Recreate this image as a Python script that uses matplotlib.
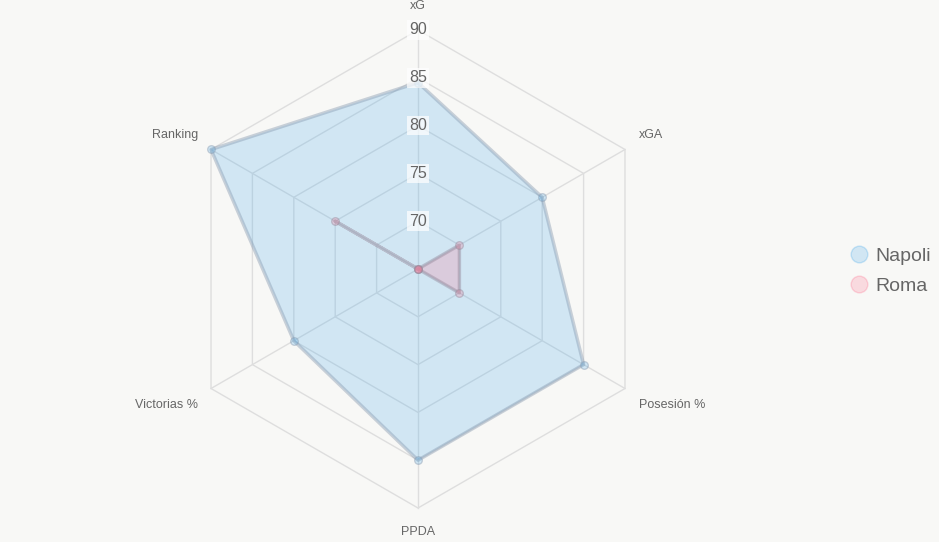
import numpy as np
import matplotlib.pyplot as plt
from matplotlib.lines import Line2D

plt.rcParams["font.family"] = ["Liberation Sans", "DejaVu Sans"]

categories = ["xG", "xGA", "Posesión %", "PPDA", "Victorias %", "Ranking"]
napoli = [84.5, 80, 85, 85, 80, 90]
roma = [65, 70, 70, 65, 65, 75]
ticks = [70, 75, 80, 85, 90]
r_min, r_max = 65, 90

bg = "#f8f8f6"
angles = np.deg2rad(90 - 60 * np.arange(len(categories)))


def to_xy(values):
    r = np.asarray(values, dtype=float) - r_min
    return r * np.cos(angles), r * np.sin(angles)


fig = plt.figure(figsize=(9.39, 5.42), dpi=100, facecolor=bg)
ax = fig.add_axes([0, 0, 1, 1])
ax.set_facecolor(bg)
scale = 239 / (r_max - r_min)
ax.set_xlim(-418 / scale, (939 - 418) / scale)
ax.set_ylim(-273 / scale, 269 / scale)
ax.axis("off")

# hexagon grid + spokes
grid_c = "#dedede"
for t in ticks:
    gx, gy = to_xy([t] * len(categories))
    ax.plot(np.append(gx, gx[0]), np.append(gy, gy[0]), color=grid_c, lw=1, zorder=1)
ox, oy = to_xy([r_max] * len(categories))
for x, y in zip(ox, oy):
    ax.plot([0, x], [0, y], color=grid_c, lw=1, zorder=1)

# series
series = [
    ("Napoli", napoli, (54/255, 162/255, 235/255, 0.2), (0.55, 0.62, 0.70, 0.45)),
    ("Roma", roma, (255/255, 99/255, 132/255, 0.2), (0.6, 0.55, 0.62, 0.45)),
]
for name, vals, fill, edge in series:
    x, y = to_xy(vals)
    ax.fill(x, y, color=fill, zorder=2, lw=0)
    ax.plot(np.append(x, x[0]), np.append(y, y[0]), color=edge, lw=2.5, zorder=3)
    ax.scatter(x, y, s=30, color=fill, edgecolors=edge, linewidths=1, zorder=4)

# tick labels
for t in ticks:
    ax.text(0, t - r_min, str(t), ha="center", va="center", fontsize=11.5,
            color="#666666", zorder=5,
            bbox=dict(boxstyle="square,pad=0.15", fc="white", ec="none", alpha=0.7))

# point labels
lbl_r = {0: 26.9, 3: 26.9}
aligns = [("center", "bottom"), ("left", "bottom"), ("left", "top"),
          ("center", "top"), ("right", "top"), ("right", "bottom")]
for i, cat in enumerate(categories):
    r = lbl_r.get(i, 26.2)
    ha, va = aligns[i]
    x = r * np.cos(angles[i])
    y = r * np.sin(angles[i])
    if i not in lbl_r:
        y += 0.25 if va == "bottom" else -0.55
        x += 0.45 if ha == "left" else -0.3
    ax.text(x, y, cat, ha=ha, va=va, fontsize=9, color="#666666")

handles = [Line2D([], [], marker="o", ls="none", markersize=12,
                  markerfacecolor=s[2], markeredgecolor=s[2][:3] + (0.25,))
           for s in series]
fig.legend(handles, [s[0] for s in series], loc="center left",
           bbox_to_anchor=(0.903, 0.5), frameon=False, fontsize=14,
           labelcolor="#666666", handletextpad=0.3, labelspacing=0.62,
           borderpad=0, borderaxespad=0, handlelength=1.1)

fig.savefig("out.png", dpi=100, facecolor=bg)
